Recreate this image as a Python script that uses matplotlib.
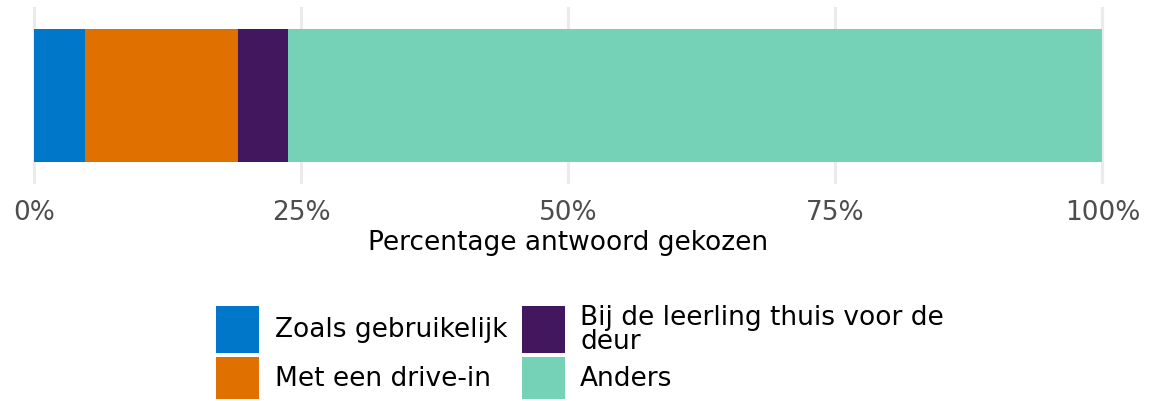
import matplotlib
matplotlib.use("Agg")
import matplotlib.pyplot as plt
from matplotlib.patches import Rectangle

# Answer shares (percent of respondents)
categories = ["Zoals gebruikelijk", "Met een drive-in",
              "Bij de leerling thuis voor de\ndeur", "Anders"]
values = [4.76, 14.29, 4.76, 76.19]
colors = ["#0077c8", "#e07000", "#42175e", "#76d2b6"]
tick_values = [0, 25, 50, 75, 100]
tick_labels = ["0%", "25%", "50%", "75%", "100%"]
x_title = "Percentage antwoord gekozen"

W, H = 1150, 402
fig = plt.figure(figsize=(W / 100, H / 100), dpi=100)
plt.rcParams["font.family"] = ["DejaVu Sans"]

def fx(px):
    return px / W

def fy(py):
    return 1 - py / H

# panel area in pixels
left_px, right_px, top_px, bot_px = 14, 1122, 8, 185
ax = fig.add_axes([fx(left_px), fy(bot_px), fx(right_px) - fx(left_px),
                   fy(top_px) - fy(bot_px)])

px_per_unit = (1102.5 - 34) / 100
ax.set_xlim(-(34 - left_px) / px_per_unit, 100 + (right_px - 1102.5) / px_per_unit)
ax.set_ylim(0, 1)

start = 0
for v, c in zip(values, colors):
    ax.barh(0.5, v, left=start, height=0.7514, color=c, linewidth=0, zorder=2)
    start += v

ax.set_xticks(tick_values)
ax.set_xticklabels(tick_labels, fontsize=19, color="#4d4d4d")
ax.set_yticks([])
ax.tick_params(axis="x", length=0, pad=11)
ax.grid(axis="x", color="#ebebeb", linewidth=2.3, zorder=0)
ax.set_axisbelow(True)
for s in ax.spines.values():
    s.set_visible(False)
ax.set_xlabel(x_title, fontsize=19, color="black", labelpad=3)

# legend, two columns filled column-first
key_x = [216, 522]
key_w = 43
row_y = [(307, 354), (358, 400)]
text_x = [275, 580]
for i, (lab, c) in enumerate(zip(categories, colors)):
    col, row = divmod(i, 2)
    y0, y1 = row_y[row]
    fig.add_artist(Rectangle((fx(key_x[col]), fy(y1)), key_w / W, (y1 - y0) / H,
                             transform=fig.transFigure, facecolor=c,
                             edgecolor="none"))
    fig.text(fx(text_x[col]), fy((y0 + y1) / 2), lab, fontsize=19,
             va="center", ha="left", linespacing=0.9, color="black")

fig.savefig("out.png", dpi=100, facecolor="white")
